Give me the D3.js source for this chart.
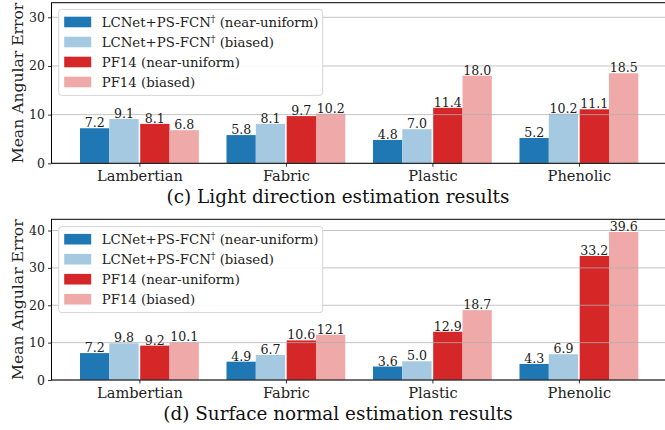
<!DOCTYPE html>
<html>
<head>
<meta charset="utf-8">
<script src="https://cdn.jsdelivr.net/npm/d3@7/dist/d3.min.js"></script>
<style>
  body { margin: 0; background: #fff; }
  svg { display: block; }
</style>
</head>
<body>
<svg width="665" height="430"></svg>
<script>
// chart data
const categories = ["Lambertian", "Fabric", "Plastic", "Phenolic"];
const seriesNames = [
  ["LCNet+PS-FCN", "\u2020", " (near-uniform)"],
  ["LCNet+PS-FCN", "\u2020", " (biased)"],
  ["PF14 (near-uniform)", "", ""],
  ["PF14 (biased)", "", ""]
];
const lightValues = [
  [7.2, 5.8, 4.8, 5.2],
  [9.1, 8.1, 7.0, 10.2],
  [8.1, 9.7, 11.4, 11.1],
  [6.8, 10.2, 18.0, 18.5]
];
const normalValues = [
  [7.2, 4.9, 3.6, 4.3],
  [9.8, 6.7, 5.0, 6.9],
  [9.2, 10.6, 12.9, 33.2],
  [10.1, 12.1, 18.7, 39.6]
];
const lightTicks = [0, 10, 20, 30];
const normalTicks = [0, 10, 20, 30, 40];
const colors = ["#1f77b4", "#a5c9e1", "#d62728", "#efa9a9"];

const svg = d3.select("svg");
const serif = "'DejaVu Serif', 'Liberation Serif', serif";

function drawPanel(cfg) {
  const x = d3.scaleLinear().domain([-0.6, 3.6]).range([51.5, 666.8]);
  const y = d3.scaleLinear().domain([0, cfg.yMax]).range([cfg.bottom, cfg.top]);
  const g = svg.append("g");
  const bw = x(0.2) - x(0);

  // bars
  cfg.values.forEach((vals, s) => {
    const shift = s < 2 ? -0.8 : 0.8;
    g.append("g")
      .selectAll("rect")
      .data(vals)
      .enter()
      .append("rect")
      .attr("x", (d, i) => x(i + (s - 2) * 0.2) + shift)
      .attr("width", bw)
      .attr("y", (d) => y(d))
      .attr("height", (d) => y(0) - y(d))
      .attr("fill", colors[s]);
  });

  // grid is drawn over the bars
  g.append("g")
    .selectAll("line")
    .data(cfg.ticks)
    .enter()
    .append("line")
    .attr("x1", x(-0.6))
    .attr("x2", x(3.6))
    .attr("y1", (d) => y(d))
    .attr("y2", (d) => y(d))
    .attr("stroke", "#b0b0b0")
    .attr("stroke-opacity", 0.75)
    .attr("stroke-width", 1);

  // value labels
  cfg.values.forEach((vals, s) => {
    const shift = s < 2 ? -0.8 : 0.8;
    g.append("g")
      .selectAll("text")
      .data(vals)
      .enter()
      .append("text")
      .attr("x", (d, i) => x(i + (s - 2) * 0.2 + 0.1) + shift)
      .attr("y", (d) => y(d) - 1)
      .attr("text-anchor", "middle")
      .attr("font-family", serif)
      .attr("font-size", 12.6)
      .attr("fill", "#222")
      .text((d) => d.toFixed(1));
  });

  // axes
  const yAxis = d3.axisLeft(y).tickValues(cfg.ticks).tickSize(3.5).tickPadding(3);
  const ya = g.append("g").attr("transform", `translate(${x(-0.6)},0)`).call(yAxis);
  const xAxis = d3.axisBottom(x).tickValues([0, 1, 2, 3]).tickFormat((d) => categories[d]).tickSize(3.5).tickPadding(4);
  const xa = g.append("g").attr("transform", `translate(0,${cfg.bottom})`).call(xAxis);
  [ya, xa].forEach((a) => {
    a.select(".domain").remove();
    a.selectAll("line").attr("stroke", "#000").attr("stroke-width", 0.8);
    a.selectAll("text").attr("font-family", serif).attr("fill", "#222");
  });
  ya.selectAll("text").attr("font-size", 12.5);
  xa.selectAll("text").attr("font-size", 14.6);

  // spines
  g.append("rect")
    .attr("x", x(-0.6))
    .attr("y", cfg.top)
    .attr("width", x(3.6) - x(-0.6))
    .attr("height", cfg.bottom - cfg.top)
    .attr("fill", "none")
    .attr("stroke", "#000")
    .attr("stroke-width", 1);

  // legend
  const lg = g.append("g").attr("transform", `translate(58.7,${cfg.legendTop})`);
  lg.append("rect")
    .attr("width", 264)
    .attr("height", 86)
    .attr("rx", 3)
    .attr("fill", "#fff")
    .attr("fill-opacity", 0.9)
    .attr("stroke", "#d6d6d6")
    .attr("stroke-width", 1);
  seriesNames.forEach((parts, s) => {
    const cy = 12.6 + s * 20;
    lg.append("rect")
      .attr("x", 5.5)
      .attr("y", cy - 5.3)
      .attr("width", 27)
      .attr("height", 10.6)
      .attr("fill", colors[s]);
    const t = lg.append("text")
      .attr("x", 43)
      .attr("y", cy)
      .attr("dy", "0.35em")
      .attr("font-family", serif)
      .attr("font-size", 13.3)
      .attr("fill", "#222");
    t.append("tspan").text(parts[0]);
    if (parts[1]) {
      t.append("tspan").attr("font-size", 9.3).attr("dy", -4.5).text(parts[1]);
      t.append("tspan").attr("dy", 4.5).text(parts[2]);
    }
  });

  // y label
  svg.append("text")
    .attr("transform", `translate(22.5,${(cfg.top + cfg.bottom) / 2}) rotate(-90)`)
    .attr("text-anchor", "middle")
    .attr("font-family", serif)
    .attr("font-size", 15.6)
    .attr("fill", "#222")
    .text("Mean Angular Error");

  // caption
  svg.append("text")
    .attr("x", 338)
    .attr("y", cfg.captionY)
    .attr("text-anchor", "middle")
    .attr("font-family", serif)
    .attr("font-size", 18.4)
    .attr("fill", "#111")
    .text(cfg.caption);
}

drawPanel({
  values: lightValues, ticks: lightTicks, yMax: 33,
  top: 2.7, bottom: 163.3, legendTop: 9.4, captionY: 202.8,
  caption: "(c) Light direction estimation results"
});
drawPanel({
  values: normalValues, ticks: normalTicks, yMax: 43,
  top: 219.3, bottom: 380, legendTop: 226.6, captionY: 419.6,
  caption: "(d) Surface normal estimation results"
});
</script>
</body>
</html>
